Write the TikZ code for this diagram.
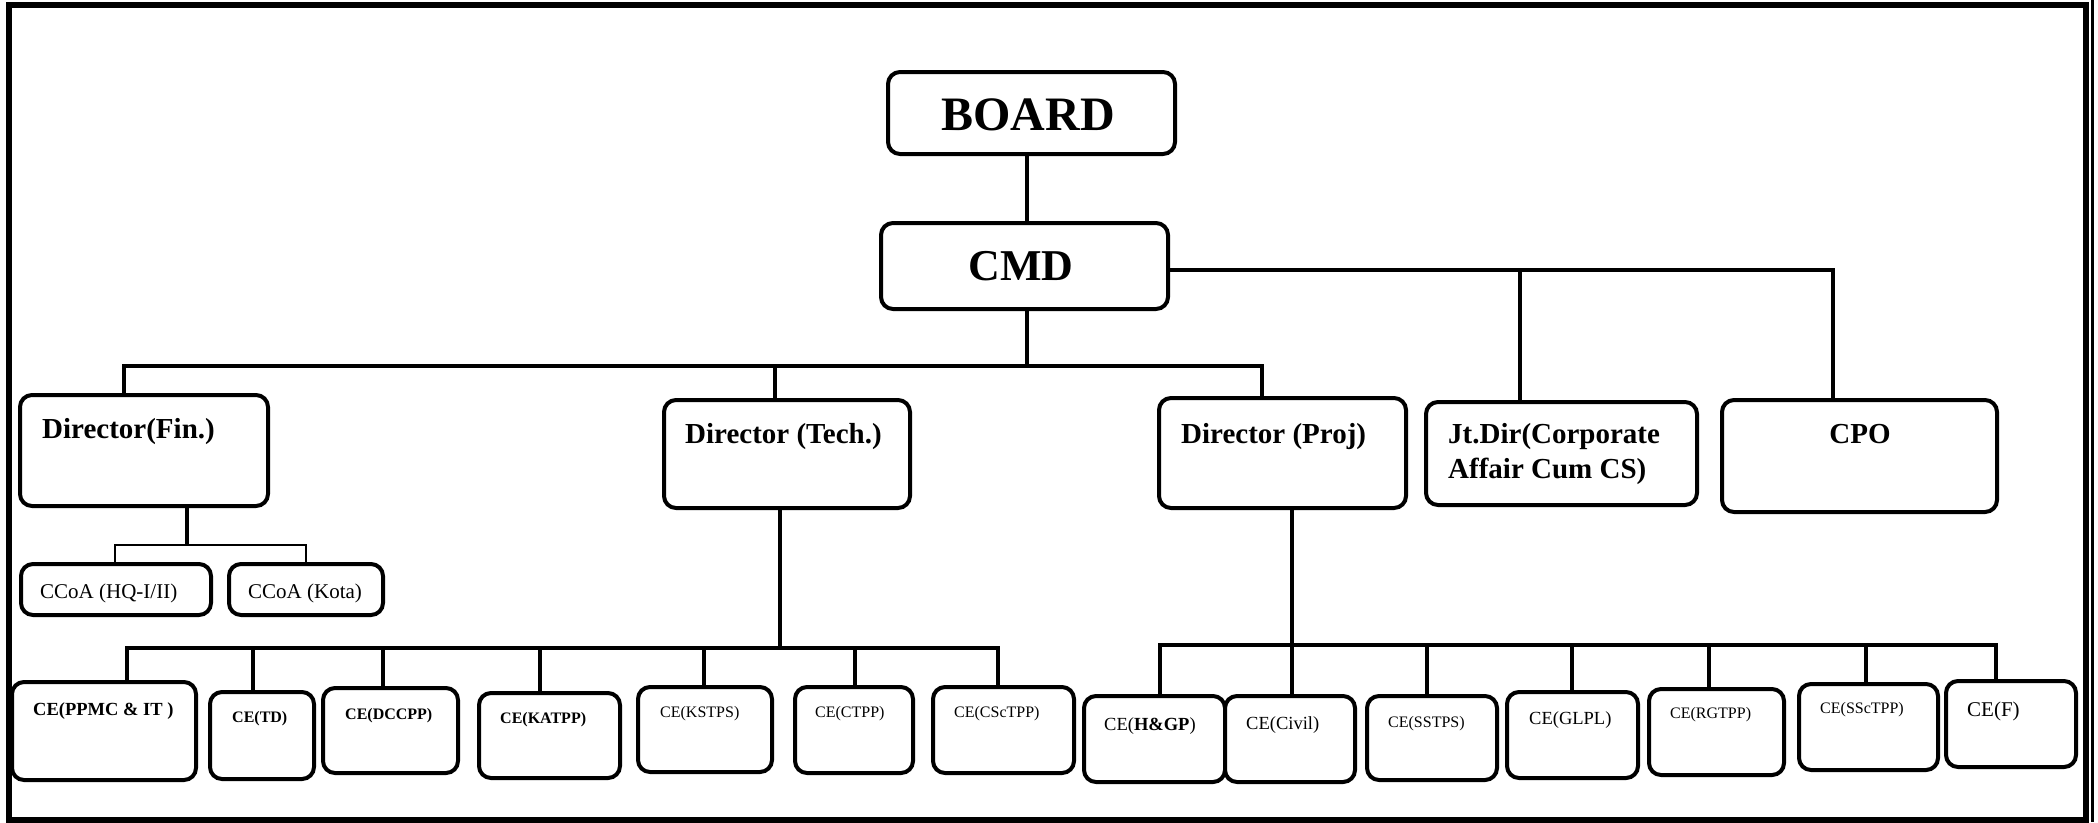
\documentclass[tikz,border=0pt]{standalone}
\usepackage{fontspec}
\setmainfont{Liberation Serif}
\newcommand{\orgbox}[5]{\node[box, minimum width={#4-#2}, minimum height={#5-#3}] (#1) at ({(#2+#4)/2},{(#3+#5)/2}) {};}
\newcommand{\fs}[1]{\fontsize{#1}{#1}\selectfont}
\begin{document}
\begin{tikzpicture}[x=1pt,y=-1pt,
  box/.style={draw, fill=white, line width=4pt, rounded corners=12pt, inner sep=0pt, outer sep=0pt},
  conn/.style={line width=4pt},
  thinc/.style={line width=2pt},
  lbl/.style={anchor=base west, inner sep=0pt},
  clbl/.style={anchor=base, inner sep=0pt}]
\useasboundingbox (0,0) rectangle (2098,822);
% frame
\draw[line width=6pt] (8.5,4.5) rectangle (2085.5,819.5);
\draw[line width=3pt] (2092.5,0) -- (2092.5,822);

% invisible placement of boxes first (for names), redrawn below
\begin{scope}[box/.append style={draw=none, fill=none}]
\orgbox{board}{888}{72}{1175}{154}
\orgbox{cmd}{881}{223}{1168}{309}
\orgbox{fin}{20}{395}{268}{506}
\orgbox{tech}{664}{400}{910}{508}
\orgbox{proj}{1159}{398}{1406}{508}
\orgbox{jt}{1426}{402}{1697}{505}
\orgbox{cpo}{1722}{400}{1997}{512}
\orgbox{ccoa1}{21}{564}{211}{615}
\orgbox{ccoa2}{229}{564}{383}{615}
\orgbox{ppmc}{12}{682}{196}{780}
\orgbox{td}{210}{692}{314}{779}
\orgbox{dccpp}{323}{688}{458}{773}
\orgbox{katpp}{479}{693}{620}{778}
\orgbox{kstps}{638}{687}{772}{772}
\orgbox{ctpp}{795}{687}{913}{773}
\orgbox{csctpp}{933}{687}{1074}{773}
\orgbox{hgp}{1084}{696}{1225}{782}
\orgbox{civil}{1225}{696}{1355}{782}
\orgbox{sstps}{1367}{696}{1497}{780}
\orgbox{glpl}{1507}{692}{1638}{778}
\orgbox{rgtpp}{1649}{689}{1784}{775}
\orgbox{ssctpp}{1799}{684}{1938}{770}
\orgbox{cef}{1946}{681}{2076}{767}
\end{scope}

% connectors
\coordinate (c0) at (1027,366);
\draw[conn] (c0 |- board.south) -- (c0 |- cmd.north);
\draw[conn] (cmd.south -| c0) -- (c0);
\coordinate (b1) at (124,366);
\coordinate (b2) at (1262,366);
\coordinate (b3) at (775,366);
\draw[conn] (fin.north -| b1) -- (b1) -- (b2) -- (b2 |- proj.north);
\draw[conn] (b3) -- (b3 |- tech.north);
\coordinate (r1) at (1520,270);
\coordinate (r2) at (1833,270);
\draw[conn] (cmd.east |- r1) -- (r2) -- (r2 |- cpo.north);
\draw[conn] (r1) -- (r1 |- jt.north);
% finance
\coordinate (f0) at (187,545);
\coordinate (f1) at (115,545);
\coordinate (f2) at (306,545);
\draw[conn] (f0 |- fin.south) -- (f0);
\draw[thinc] (f1 |- ccoa1.north) -- (f1) -- (f2) -- (f2 |- ccoa2.north);
% technical
\coordinate (t0) at (780,648);
\coordinate (tL) at (127,648);
\coordinate (tR) at (998,648);
\draw[conn] (t0 |- tech.south) -- (t0);
\draw[conn] (tL |- ppmc.north) -- (tL) -- (tR) -- (tR |- csctpp.north);
\foreach \x/\n in {253/td,383/dccpp,540/katpp,704/kstps,855/ctpp}{
  \coordinate (tmp) at (\x,648);
  \draw[conn] (tmp) -- (tmp |- \n.north);
}
% projects
\coordinate (p0) at (1292,645);
\coordinate (pL) at (1160,645);
\coordinate (pR) at (1996,645);
\draw[conn] (p0 |- proj.south) -- (p0 |- civil.north);
\draw[conn] (pL |- hgp.north) -- (pL) -- (pR) -- (pR |- cef.north);
\foreach \x/\n in {1427/sstps,1572/glpl,1709/rgtpp,1866/ssctpp}{
  \coordinate (tmp) at (\x,645);
  \draw[conn] (tmp) -- (tmp |- \n.north);
}

% boxes drawn
\orgbox{board}{888}{72}{1175}{154}
\orgbox{cmd}{881}{223}{1168}{309}
\orgbox{fin}{20}{395}{268}{506}
\orgbox{tech}{664}{400}{910}{508}
\orgbox{proj}{1159}{398}{1406}{508}
\orgbox{jt}{1426}{402}{1697}{505}
\orgbox{cpo}{1722}{400}{1997}{512}
\orgbox{ccoa1}{21}{564}{211}{615}
\orgbox{ccoa2}{229}{564}{383}{615}
\orgbox{ppmc}{12}{682}{196}{780}
\orgbox{td}{210}{692}{314}{779}
\orgbox{dccpp}{323}{688}{458}{773}
\orgbox{katpp}{479}{693}{620}{778}
\orgbox{kstps}{638}{687}{772}{772}
\orgbox{ctpp}{795}{687}{913}{773}
\orgbox{csctpp}{933}{687}{1074}{773}
\orgbox{hgp}{1084}{696}{1225}{782}
\orgbox{civil}{1225}{696}{1355}{782}
\orgbox{sstps}{1367}{696}{1497}{780}
\orgbox{glpl}{1507}{692}{1638}{778}
\orgbox{rgtpp}{1649}{689}{1784}{775}
\orgbox{ssctpp}{1799}{684}{1938}{770}
\orgbox{cef}{1946}{681}{2076}{767}

% labels
\node[clbl, font=\fs{48}\bfseries] (board-t) at (1028,130) {BOARD};
\node[clbl, font=\fs{44}\bfseries] (cmd-t) at (1021,280) {CMD};
\node[lbl, font=\fs{29}\bfseries] (fin-t) at (42,438) {Director(Fin.)};
\node[lbl, font=\fs{29}\bfseries] (tech-t) at (685,443) {Director (Tech.)};
\node[lbl, font=\fs{29}\bfseries] (proj-t) at (1181,443) {Director (Proj)};
\node[lbl, font=\fs{29}\bfseries] (jt-t1) at (1448,443) {Jt.Dir(Corporate};
\node[lbl, font=\fs{29}\bfseries] (jt-t2) at (1448,478) {Affair Cum CS)};
\node[clbl, font=\fs{29}\bfseries] (cpo-t) at (1860,443) {CPO};
\node[lbl, font=\fs{21}] (ccoa1-t) at (40,598) {CCoA (HQ-I/II)};
\node[lbl, font=\fs{21}] (ccoa2-t) at (248,598) {CCoA (Kota)};
\node[lbl, font=\fs{18.5}\bfseries] (ppmc-t) at (33,715) {CE(PPMC \& IT )};
\node[lbl, font=\fs{16}\bfseries] (td-t) at (232,722) {CE(TD)};
\node[lbl, font=\fs{16}\bfseries] (dccpp-t) at (345,719) {CE(DCCPP)};
\node[lbl, font=\fs{16}\bfseries] (katpp-t) at (500,723) {CE(KATPP)};
\node[lbl, font=\fs{16}] (kstps-t) at (660,717) {CE(KSTPS)};
\node[lbl, font=\fs{16}] (ctpp-t) at (815,717) {CE(CTPP)};
\node[lbl, font=\fs{16}] (csctpp-t) at (954,717) {CE(CScTPP)};
\node[lbl, font=\fs{18.5}] (hgp-t) at (1104,730) {CE(\textbf{H\&GP})};
\node[lbl, font=\fs{18.5}] (civil-t) at (1246,729) {CE(Civil)};
\node[lbl, font=\fs{16}] (sstps-t) at (1388,727) {CE(SSTPS)};
\node[lbl, font=\fs{18.5}] (glpl-t) at (1529,724) {CE(GLPL)};
\node[lbl, font=\fs{16}] (rgtpp-t) at (1670,718) {CE(RGTPP)};
\node[lbl, font=\fs{16}] (ssctpp-t) at (1820,713) {CE(SScTPP)};
\node[lbl, font=\fs{21}] (cef-t) at (1967,716) {CE(F)};
\end{tikzpicture}
\end{document}
